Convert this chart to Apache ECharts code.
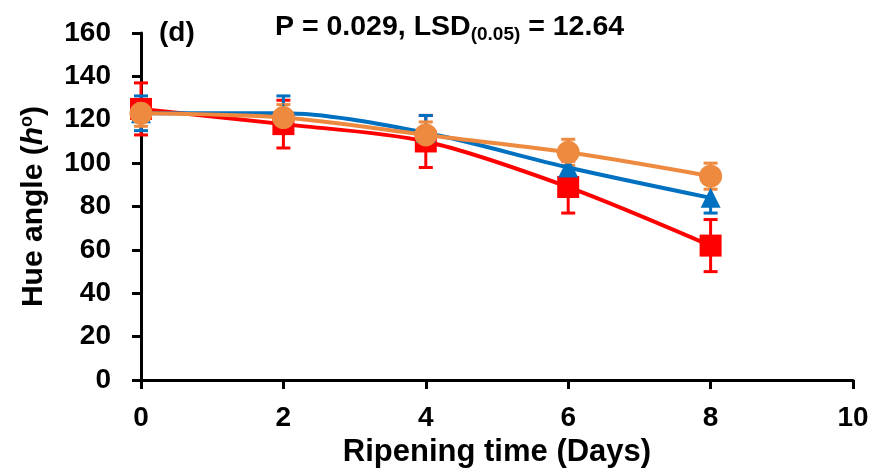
<!DOCTYPE html>
<html>
<head>
<meta charset="utf-8">
<script src="https://cdn.jsdelivr.net/npm/echarts@6/dist/echarts.min.js"></script>
<style>
  html, body { margin: 0; padding: 0; background: #fff; }
  #chartmain { width: 881px; height: 473px; }
</style>
</head>
<body>
<div id="chartmain"></div>
<script>
var days = [0, 2, 4, 6, 8];
var redVals = [125, 118, 110, 89, 62];
var redErr = [12, 11, 12, 12, 12];
var blueVals = [123, 123, 114, 98, 84];
var blueErr = [8, 8, 8, 8, 7];
var orangeVals = [123, 121, 113, 105, 94];
var orangeErr = [6, 6, 6, 6, 6];

var RED = '#ff0000', BLUE = '#0070c0', ORANGE = '#ed8a3f';
var FONT = '"Liberation Sans", Arial, sans-serif';

function pts(vals) {
    return days.map(function (d, i) { return [d, vals[i]]; });
}

function errData(vals, err) {
    return days.map(function (d, i) { return [d, vals[i] - err[i], vals[i] + err[i]]; });
}

function errSeries(vals, err, color) {
    return {
        type: 'custom',
        data: errData(vals, err),
        z: 1,
        renderItem: function (params, api) {
            var lo = api.coord([api.value(0), api.value(1)]);
            var hi = api.coord([api.value(0), api.value(2)]);
            var w = 7;
            var st = { stroke: color, lineWidth: 3 };
            return {
                type: 'group',
                children: [
                    { type: 'line', shape: { x1: lo[0], y1: lo[1], x2: hi[0], y2: hi[1] }, style: st },
                    { type: 'line', shape: { x1: lo[0] - w, y1: lo[1], x2: lo[0] + w, y2: lo[1] }, style: st },
                    { type: 'line', shape: { x1: hi[0] - w, y1: hi[1], x2: hi[0] + w, y2: hi[1] }, style: st }
                ]
            };
        }
    };
}

function lineSeries(vals, color, symbol, size, z) {
    return {
        type: 'line',
        data: pts(vals),
        smooth: 0.3,
        symbol: symbol,
        symbolSize: size,
        showAllSymbol: true,
        z: z,
        lineStyle: { color: color, width: 4 },
        itemStyle: { color: color, opacity: 1 }
    };
}

var myChart = echarts.init(document.getElementById('chartmain'));
var option = {
    animation: false,
    textStyle: { fontFamily: FONT },
    grid: { left: 141, right: 28, top: 33, bottom: 92 },
    title: [
        {
            text: 'P = 0.029, LSD{sub|(0.05)} = 12.64',
            left: 270, top: 6,
            textStyle: {
                fontFamily: FONT, fontWeight: 'bold', fontSize: 28.5, color: '#000',
                rich: {
                    sub: { fontFamily: FONT, fontWeight: 'bold', fontSize: 19, verticalAlign: 'bottom', padding: [14, 0, 0, 0], color: '#000' }
                }
            }
        },
        {
            text: '(d)',
            left: 154, top: 14,
            textStyle: { fontFamily: FONT, fontWeight: 'bold', fontSize: 28, color: '#000' }
        }
    ],
    xAxis: {
        type: 'value',
        min: 0, max: 10, interval: 2,
        name: 'Ripening time (Days)',
        nameLocation: 'middle',
        nameGap: 54,
        nameTextStyle: { fontFamily: FONT, fontWeight: 'bold', fontSize: 31, color: '#000' },
        axisLine: { lineStyle: { color: '#000', width: 3 } },
        axisTick: { length: 9, inside: false, lineStyle: { color: '#000', width: 3 } },
        axisLabel: { margin: 24, fontFamily: FONT, fontWeight: 'bold', fontSize: 28, color: '#000' },
        splitLine: { show: false }
    },
    yAxis: {
        type: 'value',
        min: 0, max: 160, interval: 20,
        name: 'Hue angle ({it|h}{sup|o})',
        nameLocation: 'middle',
        nameGap: 91,
        nameTextStyle: {
            fontFamily: FONT, fontWeight: 'bold', fontSize: 30, color: '#000',
            rich: {
                it: { fontFamily: FONT, fontWeight: 'bold', fontStyle: 'italic', fontSize: 30, color: '#000' },
                sup: { fontFamily: FONT, fontWeight: 'bold', fontSize: 18, verticalAlign: 'top', padding: [0, 0, 14, 0], color: '#000' }
            }
        },
        axisLine: { show: true, lineStyle: { color: '#000', width: 3 } },
        axisTick: { show: true, length: 9, lineStyle: { color: '#000', width: 3 } },
        axisLabel: { margin: 30, fontFamily: FONT, fontWeight: 'bold', fontSize: 28, color: '#000' },
        splitLine: { show: false }
    },
    series: [
        errSeries(redVals, redErr, RED),
        errSeries(blueVals, blueErr, BLUE),
        errSeries(orangeVals, orangeErr, ORANGE),
        lineSeries(redVals, RED, 'rect', 22, 3),
        lineSeries(blueVals, BLUE, 'triangle', 20, 4),
        lineSeries(orangeVals, ORANGE, 'circle', 23, 5)
    ]
};
myChart.setOption(option);
</script>
</body>
</html>
